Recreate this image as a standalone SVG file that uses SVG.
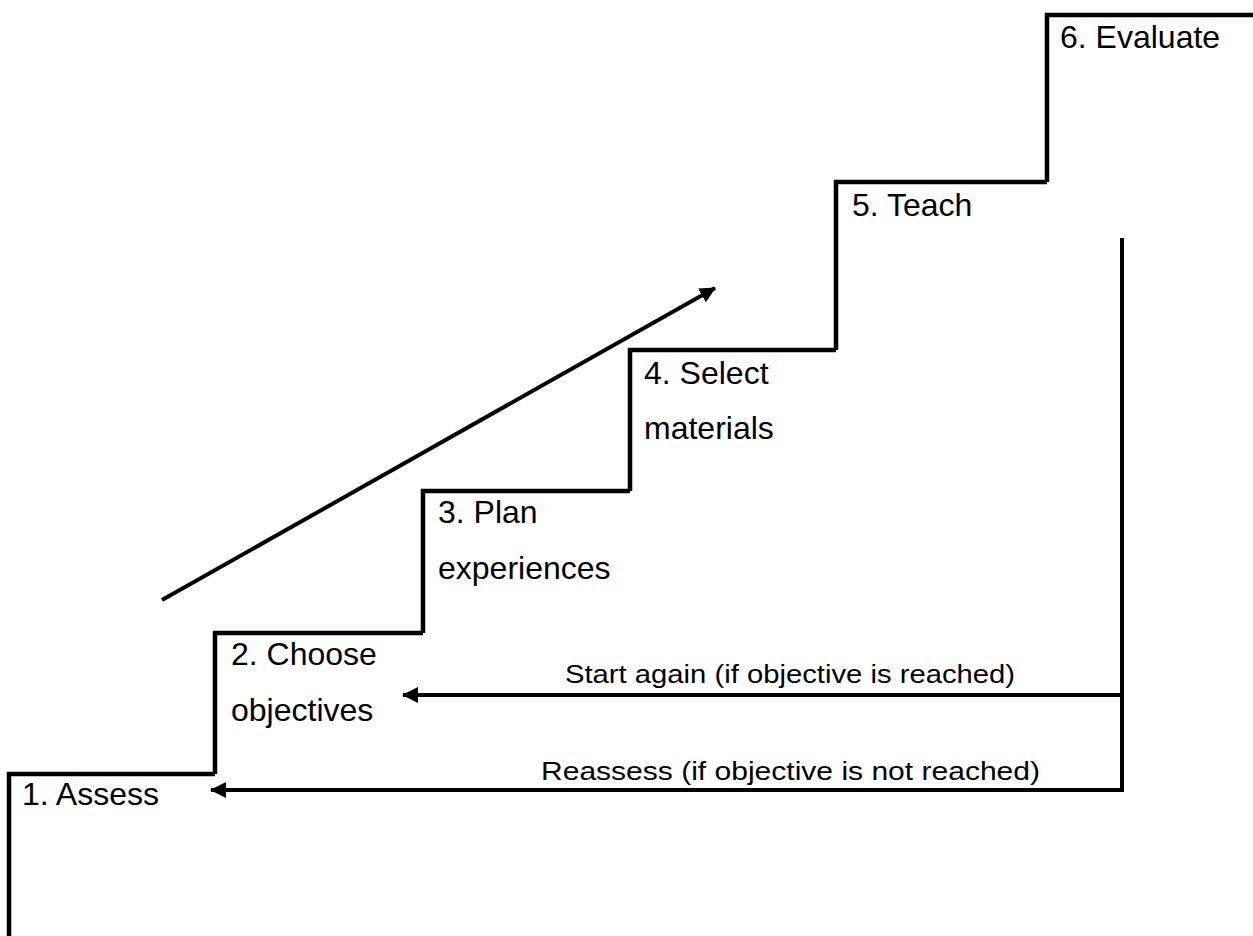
<svg xmlns="http://www.w3.org/2000/svg" width="1253" height="936" viewBox="0 0 1253 936">
<style>
.step{fill:none;stroke:#000;stroke-width:4.5;stroke-linecap:butt;stroke-linejoin:miter}
.lbl{font-family:"Liberation Sans",Arial,sans-serif;font-size:32px;fill:#000}
.albl{font-family:"Liberation Sans",Arial,sans-serif;font-size:26px;fill:#000}
.conn{fill:none;stroke:#000;stroke-width:4}
</style>
<defs>
<marker id="ah" markerUnits="userSpaceOnUse" markerWidth="16" markerHeight="16" viewBox="0 0 16 16" refX="15" refY="8" orient="auto">
<path d="M0,0 L16,8 L0,16 Z" fill="#000"/>
</marker>
</defs>
<rect width="1253" height="936" fill="#fff"/>
<g id="step1"><path class="step" d="M9,936 V774 H215"/><text class="lbl" x="22" y="805">1. Assess</text></g>
<g id="step2"><path class="step" d="M215,774 V633 H423"/><text class="lbl" x="231" y="665">2. Choose</text><text class="lbl" x="231" y="721">objectives</text></g>
<g id="step3"><path class="step" d="M423,633 V491 H630"/><text class="lbl" x="438" y="523">3. Plan</text><text class="lbl" x="438" y="579">experiences</text></g>
<g id="step4"><path class="step" d="M630,491 V350 H836"/><text class="lbl" x="644" y="384">4. Select</text><text class="lbl" x="644" y="439">materials</text></g>
<g id="step5"><path class="step" d="M836,350 V182 H1047"/><text class="lbl" x="852" y="216">5. Teach</text></g>
<g id="step6"><path class="step" d="M1047,182 V15 H1253"/><text class="lbl" x="1060" y="48">6. Evaluate</text></g>
<g id="connectors">
<path class="conn" d="M162,600 L715,288" marker-end="url(#ah)"/>
<path class="conn" d="M1122,238 V792"/>
<path class="conn" d="M1122,695 H403" marker-end="url(#ah)"/>
<path class="conn" d="M1122,790 H211" marker-end="url(#ah)"/>
<text class="albl" x="565" y="683" textLength="450" lengthAdjust="spacingAndGlyphs">Start again (if objective is reached)</text>
<text class="albl" x="541" y="780" textLength="499" lengthAdjust="spacingAndGlyphs">Reassess (if objective is not reached)</text>
</g>
</svg>
